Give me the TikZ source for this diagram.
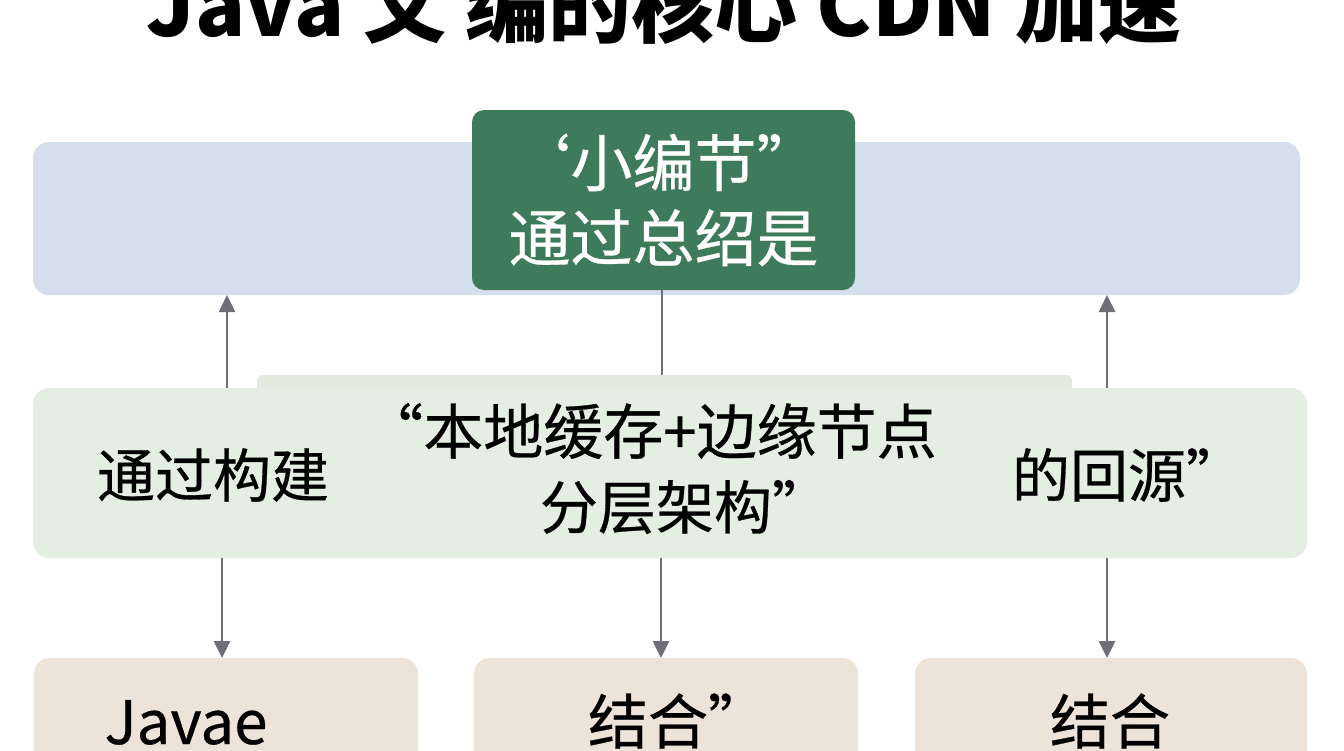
\documentclass[tikz,border=0pt]{standalone}
\usepackage{fontspec}
\newfontfamily\cjk[FakeBold=0.5]{Noto Sans CJK SC}
\newfontfamily\cjktitle{Noto Sans CJK SC}
\usetikzlibrary{arrows.meta}
\definecolor{bandblue}{HTML}{D4DEEC}
\definecolor{headgreen}{HTML}{3E7B5A}
\definecolor{midgreen}{HTML}{E5EEE3}
\definecolor{tabgreen}{HTML}{E1EADD}
\definecolor{beige}{HTML}{EEE3D9}
\definecolor{arrowgray}{HTML}{6E6E76}
\begin{document}
\begin{tikzpicture}[x=1pt,y=-1pt,
  boxnode/.style={inner sep=0pt, outer sep=0pt, rounded corners=16pt},
  bigtxt/.style={font=\cjk\fontsize{58}{77}\selectfont, inner sep=0pt, align=center},
  bottxt/.style={font=\cjk\fontsize{60}{60}\selectfont, inner sep=0pt, anchor=base},
  arr/.style={draw=arrowgray, line width=2.6pt, -{Triangle[length=17pt,width=16pt]}},
  ln/.style={draw=arrowgray, line width=2.6pt}]
\useasboundingbox (0,0) rectangle (1344,750);
\clip (0,0) rectangle (1344,750);
\fill[white] (0,0) rectangle (1344,750);
% title
\node[font=\cjktitle\bfseries\fontsize{83}{83}\selectfont, anchor=base, inner sep=0pt] (title) at (664,36) {Java 文 编的核心 CDN 加速};
% top band and header
\node[boxnode, fill=bandblue, minimum width=1267pt, minimum height=153pt] (band) at (666.5,218.5) {};
\node[boxnode, rounded corners=12pt, fill=headgreen, minimum width=383pt, minimum height=180pt, text=white, align=center, font=\cjk\fontsize{62}{75}\selectfont] (head) at (663.5,200) {‘小编节”\\通过总绍是};
% middle band
\node[boxnode, rounded corners=6pt, fill=tabgreen, minimum width=815pt, minimum height=30pt] (tab) at (664.5,390) {};
\node[boxnode, fill=midgreen, minimum width=1274pt, minimum height=170pt] (mid) at (670,473) {};
\node[bigtxt] (m1) at (213,475) {通过构建};
\node[bigtxt, font=\cjk\fontsize{60}{60}\selectfont] (m2a) at (650,431) {“本地缓存+边缘节点};
\node[bigtxt] (m2b) at (685,507) {分层架构”};
\node[bigtxt] (m3) at (1128,475) {的回源”};
% bottom boxes
\node[boxnode, fill=beige, minimum width=384pt, minimum height=152pt] (b1) at (226,734) {};
\node[boxnode, fill=beige, minimum width=384pt, minimum height=152pt] (b2) at (666,734) {};
\node[boxnode, fill=beige, minimum width=392pt, minimum height=152pt] (b3) at (1111,734) {};
\node[bottxt] (t1) at (186,744) {Javae};
\node[bottxt] (t2) at (678,744) {结合”};
\node[bottxt] (t3) at (1110,744) {结合};
% connectors
\coordinate (xl) at (227,0);
\coordinate (xc) at (662,0);
\coordinate (xr) at (1107,0);
\coordinate (xbl) at (222,0);
\coordinate (xbc) at (661,0);
\coordinate (xbr) at (1107,0);
\draw[arr] (xl |- mid.north) -- (xl |- band.south);
\draw[ln] (xc |- head.south) -- (xc |- tab.north);
\draw[arr] (xr |- mid.north) -- (xr |- band.south);
\draw[arr] (xbl |- mid.south) -- (xbl |- b1.north);
\draw[arr] (xbc |- mid.south) -- (xbc |- b2.north);
\draw[arr] (xbr |- mid.south) -- (xbr |- b3.north);
\end{tikzpicture}
\end{document}
